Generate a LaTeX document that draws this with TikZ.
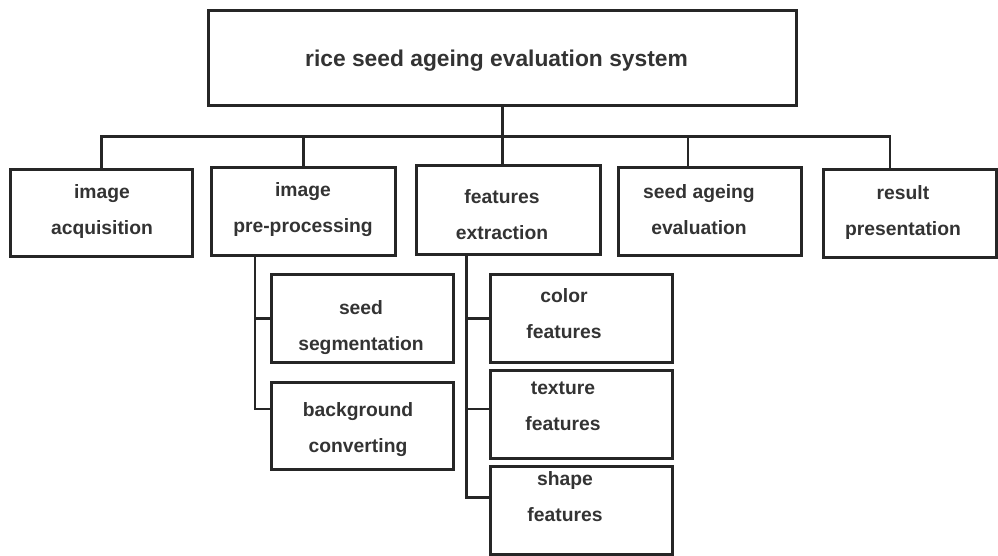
\documentclass[tikz,border=0pt]{standalone}
\usepackage{fontspec}
\setmainfont{Liberation Sans}
\definecolor{ink}{HTML}{262626}
\definecolor{txt}{HTML}{333333}
\begin{document}
\begin{tikzpicture}[x=1pt,y=-1pt,
  box/.style={draw=ink, line width=3pt, rectangle, inner sep=0pt},
  wire/.style={draw=ink, line width=2.6pt, line cap=rect},
  lbl/.style={text=txt, align=center, inner sep=0pt,
    font=\fontsize{19.3}{36}\selectfont\bfseries},
  ttl/.style={text=txt, inner sep=0pt,
    font=\fontsize{22.8}{27}\selectfont\bfseries}]
\useasboundingbox (0,0) rectangle (998,556);

% root
\node[box, minimum width=588pt, minimum height=95pt] (root) at (502.5,58) {};
\node[ttl] (rootT) at (496.5,61) {rice seed ageing evaluation system};

% first level
\node[box, minimum width=182pt, minimum height=87pt] (acq)  at (101.5,213)  {};
\node[box, minimum width=184pt, minimum height=88pt] (pre)  at (303.5,211.5) {};
\node[box, minimum width=184pt, minimum height=89pt] (feat) at (508.5,210)  {};
\node[box, minimum width=183pt, minimum height=88pt] (eval) at (710,211.5)  {};
\node[box, minimum width=173pt, minimum height=88pt] (res)  at (909.5,213.5) {};

\node[lbl] (acqT)  at (102,211.5) {image\\acquisition};
\node[lbl] (preT)  at (303,209.5) {image\\pre-processing};
\node[lbl] (featT) at (502,214.5) {features\\extraction};
\node[lbl] (evalT) at (699,209.5) {seed ageing\\evaluation};
\node[lbl] (resT)  at (903,212.5) {result\\presentation};

% pre-processing steps
\node[box, minimum width=182pt, minimum height=88pt] (seg) at (362.5,318.5) {};
\node[box, minimum width=182pt, minimum height=87pt] (bg)  at (362.5,426)   {};
\node[lbl] (segT) at (361,327.5) {seed\\segmentation};
\node[lbl] (bgT)  at (358,430)   {background\\converting};

% extracted features
\node[box, minimum width=182pt, minimum height=88pt] (col) at (581.5,318.5) {};
\node[box, minimum width=182pt, minimum height=88pt] (tex) at (581.5,414.5) {};
\node[box, minimum width=182pt, minimum height=88pt] (shp) at (581.5,510.5) {};
\node[lbl] (colT) at (564,314)   {color\\features};
\node[lbl] (texT) at (563,406)   {texture\\features};
\node[lbl] (shpT) at (565,496.5) {shape\\features};

% bus from the root to the first level
\coordinate (bus) at (502.5,136.5);
\draw[wire] (root.south) -- (root.south |- feat.north);
\draw[wire] (acq.north) |- (bus) -| ([xshift=-19.5pt]res.north);
\draw[wire] (pre.north |- bus) -- (pre.north);
\draw[wire] ([xshift=-22pt]eval.north |- bus) -- ([xshift=-22pt]eval.north);

% trunk under pre-processing
\coordinate (trunkA) at (255,255.5);
\draw[wire] (trunkA) |- (seg.west);
\draw[wire] (trunkA) |- ([yshift=17pt]bg.west);

% trunk under features extraction
\coordinate (trunkB) at (466.5,254.5);
\draw[wire] (trunkB) |- (col.west);
\draw[wire] (trunkB) |- ([yshift=5.5pt]tex.west);
\draw[wire] (trunkB) |- ([yshift=13pt]shp.west);
\end{tikzpicture}
\end{document}
